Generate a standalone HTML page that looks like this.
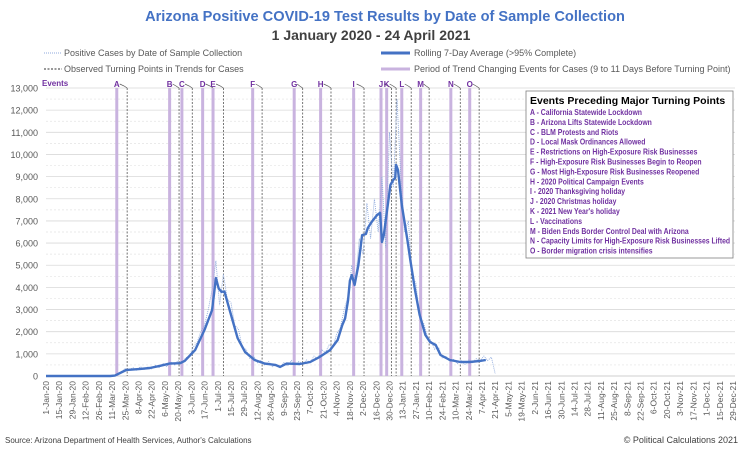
<!DOCTYPE html>
<html><head><meta charset="utf-8"><style>
body{margin:0;background:#fff;}
svg{display:block;font-family:"Liberation Sans",sans-serif;}
</style></head><body>
<svg id="chart" width="743" height="449" viewBox="0 0 743 449">
<text x="385" y="21" text-anchor="middle" font-size="14.6" font-weight="bold" fill="#4472c4">Arizona Positive COVID-19 Test Results by Date of Sample Collection</text>
<text x="371" y="40" text-anchor="middle" font-size="14" font-weight="bold" fill="#404040">1 January 2020 - 24 April 2021</text>
<g font-size="9" fill="#595959">
<line x1="44" y1="53" x2="62" y2="53" stroke="#8faadc" stroke-dasharray="1,1"/>
<text x="64" y="56">Positive Cases by Date of Sample Collection</text>
<line x1="44" y1="69" x2="62" y2="69" stroke="#333" stroke-dasharray="2,1.5"/>
<text x="64" y="72">Observed Turning Points in Trends for Cases</text>
<line x1="381" y1="53" x2="410" y2="53" stroke="#4472c4" stroke-width="3"/>
<text x="414" y="56">Rolling 7-Day Average (&gt;95% Complete)</text>
<line x1="381" y1="69" x2="410" y2="69" stroke="#c9b3df" stroke-width="3"/>
<text x="414" y="72">Period of Trend Changing Events for Cases (9 to 11 Days Before Turning Point)</text>
</g>
<g id="grid"></g><g id="yax"></g><g id="xax"></g><g id="ev"></g><g id="series"></g>
<text x="42" y="86" font-size="8" font-weight="bold" fill="#7030a0">Events</text>
<g>
<rect x="526" y="91" width="207" height="167" fill="#fff" stroke="#7f7f7f" stroke-width="0.8"/>
<text x="530" y="104" font-size="10.5" font-weight="bold" fill="#000">Events Preceding Major Turning Points</text>
<g id="evlist" transform="translate(530,0) scale(0.88,1)" font-size="7.8" font-weight="bold" fill="#7030a0"></g>
</g>
<text x="5" y="443" font-size="8" fill="#404040">Source: Arizona Department of Health Services, Author's Calculations</text>
<text x="738" y="443" font-size="9" text-anchor="end" fill="#404040">© Political Calculations 2021</text>
</svg>
<script>
const yTicks=[0,1000,2000,3000,4000,5000,6000,7000,8000,9000,10000,11000,12000,13000];
const eventLetters=["A","B","C","D","E","F","G","H","I","J","K","L","M","N","O"];
const eventDays=[75,131,144,166,177,219,263,291,326,355,361,377,397,429,449];
const turningDays=[86,141,155,177,188,229,272,302,337,366,371,387,406,439,459];
const eventNames=["California Statewide Lockdown","Arizona Lifts Statewide Lockdown","BLM Protests and Riots","Local Mask Ordinances Allowed","Restrictions on High-Exposure Risk Businesses","High-Exposure Risk Businesses Begin to Reopen","Most High-Exposure Risk Businesses Reopened","2020 Political Campaign Events","2020 Thanksgiving holiday","2020 Christmas holiday","2021 New Year's holiday","Vaccinations","Biden Ends Border Control Deal with Arizona","Capacity Limits for High-Exposure Risk Businesses Lifted","Border migration crisis intensifies"];
const rollDays=[0,68,73,85,100,110,121,131,142,147,158,168,176,180,183,186,189,197,203,211,221,232,243,248,255,269,280,290,301,309,314,317,320,322,324,327,331,335,339,341,345,351,354,356,358,365,368,370,371,373,377,383,386,391,396,402,407,413,418,428,439,449,460,466];
const rollVals=[0,0,20,270,320,360,460,560,580,680,1170,2080,2980,4420,3950,3800,3820,2620,1710,1080,720,560,500,410,560,540,630,860,1170,1620,2300,2600,3400,4300,4560,4110,5010,6360,6410,6680,6950,7270,7360,6050,6360,8620,8850,8940,9530,9300,7720,6140,5240,3880,2750,1850,1530,1400,950,720,630,630,680,720];
const rawStart=64, rawStep=4;
const rawVals=[0,0,30,90,200,330,240,380,260,420,
300,400,310,480,380,560,420,640,500,700,
560,820,900,1300,1500,2000,2300,3000,3900,5200,
3200,4600,3500,3300,2300,2100,1300,1200,800,900,
600,700,480,650,420,520,380,600,450,700,
500,650,560,720,600,900,780,1200,1050,1400,
1300,1900,2200,3000,3600,5000,4300,6200,5500,7800,
6200,8000,6500,9000,5800,11000,8500,12500,9000,6500,
7000,4500,4200,2600,2400,1800,1600,1200,1300,800,
900,650,750,560,700,520,720,600,780,700,
900,700,850,100];
const NS="http://www.w3.org/2000/svg";
const X0=46,PXD=687/728,Y0=376,PY=288/13000;
const xs=d=>X0+d*PXD, ys=v=>Y0-v*PY;
function mk(t,a,p){const e=document.createElementNS(NS,t);for(const k in a)e.setAttribute(k,a[k]);p.appendChild(e);return e;}
const grid=document.getElementById('grid'),yax=document.getElementById('yax'),xax=document.getElementById('xax'),ev=document.getElementById('ev'),ser=document.getElementById('series'),evl=document.getElementById('evlist');
yTicks.forEach(v=>{
 const l=mk('line',{x1:xs(0),x2:735,y1:ys(v),y2:ys(v),stroke:v===0?'#bfbfbf':'#d9d9d9','stroke-width':0.8},grid);
 
 
 if(v<13000){const m=mk('line',{x1:xs(0),x2:735,y1:ys(v+500),y2:ys(v+500),stroke:'#e3e3e3','stroke-width':0.7,'stroke-dasharray':'2,2'},grid);
 
 }
 const t=mk('text',{x:38,y:ys(v)+3.5,'text-anchor':'end','font-size':9,fill:'#595959'},yax);
 t.textContent=v.toLocaleString('en-US');
 
 
});
const mon=["Jan","Feb","Mar","Apr","May","Jun","Jul","Aug","Sep","Oct","Nov","Dec"];
for(let d=0;d<=728;d+=14){
 const dt=new Date(Date.UTC(2020,0,1+d));
 const lab=dt.getUTCDate()+"-"+mon[dt.getUTCMonth()]+"-"+String(dt.getUTCFullYear()).slice(2);
 const x=xs(d);
 const t=mk('text',{x:0,y:0,transform:`translate(${x+3},381) rotate(-90)`,'text-anchor':'end','font-size':8.5,fill:'#595959'},xax);
 t.textContent=lab;
 
 
}
eventDays.forEach((d,i)=>{
 const x=xs(d),xt=xs(turningDays[i]);
 const b=mk('line',{x1:x,x2:x,y1:88,y2:Y0,stroke:'#c9b3df','stroke-width':3},ev);
 
 
 const dl=mk('line',{x1:xt,x2:xt,y1:88,y2:Y0,stroke:'#555','stroke-width':0.8,'stroke-dasharray':'2,1.5'},ev);
 
 
 const c=mk('polyline',{points:`${x+3},84 ${xt-3},86 ${xt},88`,fill:'none',stroke:'#555','stroke-width':0.7},ev);
 
 
 const t=mk('text',{x:x,y:87,'text-anchor':'middle','font-size':8,'font-weight':'bold',fill:'#7030a0'},ev);
 t.textContent=eventLetters[i];
 
 
 const e=mk('text',{x:0,y:115+i*9.9},evl);
 e.textContent=eventLetters[i]+" - "+eventNames[i];
 
 
});
const rp=rawVals.map((v,i)=>xs(rawStart+i*rawStep).toFixed(1)+","+ys(v).toFixed(1)).join(" ");
const raw=mk('polyline',{points:rp,fill:'none',stroke:'#8faadc','stroke-width':0.9,'stroke-dasharray':'1,1'},ser);


const pp=rollVals.map((v,i)=>xs(rollDays[i]).toFixed(1)+","+ys(v).toFixed(1)).join(" ");
const roll=mk('polyline',{points:pp,fill:'none',stroke:'#4472c4','stroke-width':2.4,'stroke-linejoin':'round'},ser);


</script>
</body></html>
